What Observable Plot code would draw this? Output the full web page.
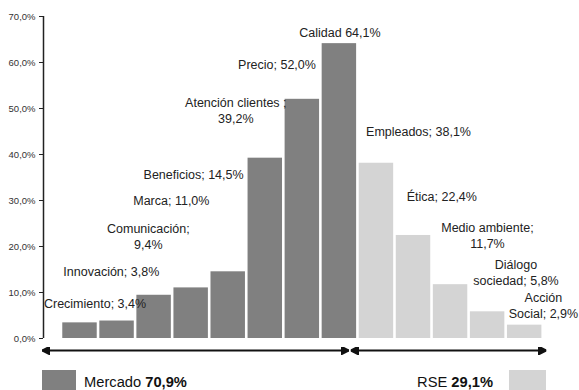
<!DOCTYPE html>
<html>
<head>
<meta charset="utf-8">
<script src="https://cdn.jsdelivr.net/npm/d3@7"></script>
<script src="https://cdn.jsdelivr.net/npm/@observablehq/plot@0.6"></script>
<style>
  body { margin: 0; background: #fff; font-family: "Liberation Sans", Arial, sans-serif; }
  #chart { width: 579px; }
  #chart svg { display: block; }
</style>
</head>
<body>
<div id="chart"></div>
<script>
// Attributes of the choice, their shares (%) and the block each belongs to
const categories = ["Crecimiento", "Innovación", "Comunicación", "Marca", "Beneficios",
  "Atención clientes", "Precio", "Calidad", "Empleados", "Ética", "Medio ambiente",
  "Diálogo sociedad", "Acción Social"];
const values = [3.4, 3.8, 9.4, 11.0, 14.5, 39.2, 52.0, 64.1, 38.1, 22.4, 11.7, 5.8, 2.9];
const groups = ["Mercado", "Mercado", "Mercado", "Mercado", "Mercado", "Mercado", "Mercado", "Mercado",
  "RSE", "RSE", "RSE", "RSE", "RSE"];

// Overall weight of each block
const groupNames = ["Mercado", "RSE"];
const groupShares = [70.9, 29.1];

const yTicks = [0, 10, 20, 30, 40, 50, 60, 70];

// Label wording; %v is replaced by the bar's own value
const labelTemplates = ["Crecimiento; %v", "Innovación; %v", "Comunicación;\n%v", "Marca; %v",
  "Beneficios; %v", "Atención clientes ;\n%v", "Precio; %v", "Calidad %v", "Empleados; %v",
  "Ética; %v", "Medio ambiente;\n%v", "Diálogo\nsociedad; %v", "Acción\nSocial; %v"];

// Where each label block sits (x in bar units, y in %)
const labelAt = [[0.87, 7.8], [1.31, 14.8], [2.31, 22.4], [2.93, 30.2], [3.53, 35.8],
  [4.67, 49.8], [5.78, 59.6], [7.48, 66.7], [9.6, 45.2], [10.23, 31.1], [11.46, 22.6],
  [12.23, 14.5], [12.97, 7.3]];

const groupFill = {Mercado: "#808080", RSE: "#d4d4d4"};
const fmt = v => v.toFixed(1).replace(".", ",") + "%";

const data = categories.map((name, i) => ({
  i, name, value: values[i], group: groups[i],
  label: labelTemplates[i].replace("%v", fmt(values[i])),
  lx: labelAt[i][0], ly: labelAt[i][1]
}));

// Extent of each block along x, with the arrow overhang at each end
const xMin = -0.52;
const arrowPad = [[-0.035, -0.28], [-0.23, 0.05]];
const arrows = groupNames.map((g, k) => {
  const idx = data.filter(d => d.group === g).map(d => d.i);
  const from = k === 0 ? xMin : d3.min(idx);
  return {group: g, x1: from + arrowPad[k][0], x2: d3.max(idx) + 1 + arrowPad[k][1]};
});

// Solid triangular arrowhead
function head(color) {
  const m = d3.create("svg:marker")
    .attr("viewBox", "-8 -4 8 8")
    .attr("markerUnits", "userSpaceOnUse")
    .attr("markerWidth", 8)
    .attr("markerHeight", 8)
    .attr("refX", 0)
    .attr("refY", 0)
    .attr("orient", "auto-start-reverse")
    .attr("fill", color);
  m.append("path").attr("d", "M-8,-4L0,0L-8,4Z");
  return m.node();
}

const chart = Plot.plot({
  width: 579,
  height: 366,
  marginLeft: 43,
  marginRight: 35,
  marginTop: 16,
  marginBottom: 28,
  style: {fontFamily: "'Liberation Sans', Arial, sans-serif", color: "#222", background: "#fff"},
  x: {domain: [xMin, 13], axis: null},
  y: {domain: [0, 70], axis: null},
  marks: [
    Plot.axisY({ticks: yTicks, tickFormat: fmt, tickSize: 4, tickPadding: 4, fontSize: 9.5, label: null, stroke: "#222", fill: "#333"}),
    Plot.ruleX([xMin], {y1: 0, y2: 70, stroke: "#222", strokeWidth: 1.5}),
    ...groupNames.map(g => Plot.rectY(data, {
      filter: d => d.group === g,
      x1: "i", x2: d => d.i + 1, y: "value",
      fill: groupFill[g], insetRight: 2.6
    })),
    Plot.link(arrows, {
      x1: "x1", x2: "x2", y1: 0, y2: 0, dy: 12,
      stroke: "#111", strokeWidth: 2,
      markerStart: head, markerEnd: head
    }),
    Plot.text(data, {
      x: "lx", y: "ly", text: "label",
      fontSize: 12.5, lineHeight: 1.28, fill: "#222"
    })
  ]
});
document.getElementById("chart").append(chart);

// Legend strip under the chart
const legend = d3.select("#chart").append("svg")
  .attr("width", 579).attr("height", 24)
  .style("display", "block")
  .style("font-family", "'Liberation Sans', Arial, sans-serif")
  .style("font-size", "14.7px");

legend.append("rect").attr("x", 42).attr("y", 4).attr("width", 34).attr("height", 22).attr("fill", groupFill[groupNames[0]]);
const t1 = legend.append("text").attr("x", 84).attr("y", 21).attr("fill", "#111");
t1.append("tspan").text(groupNames[0] + " ");
t1.append("tspan").attr("font-weight", "bold").text(fmt(groupShares[0]));

legend.append("rect").attr("x", 509).attr("y", 4).attr("width", 37).attr("height", 22).attr("fill", groupFill[groupNames[1]]);
const t2 = legend.append("text").attr("x", 493).attr("y", 21).attr("text-anchor", "end").attr("fill", "#111");
t2.append("tspan").text(groupNames[1] + " ");
t2.append("tspan").attr("font-weight", "bold").text(fmt(groupShares[1]));
</script>
</body>
</html>
